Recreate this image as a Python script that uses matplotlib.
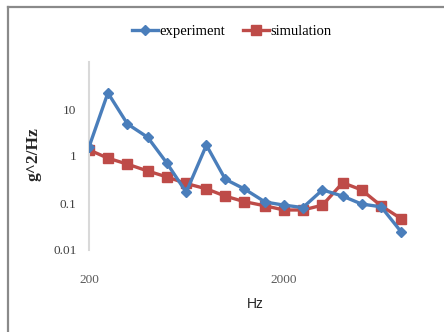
import matplotlib
matplotlib.use("Agg")
import matplotlib.pyplot as plt
from matplotlib.lines import Line2D
import numpy as np

freq = [200, 250, 315, 400, 500, 630, 800, 1000, 1250, 1600, 2000,
        2500, 3150, 4000, 5000, 6300, 8000]
experiment = [1.55, 22, 4.8, 2.5, 0.72, 0.17, 1.7, 0.32, 0.20, 0.105, 0.09,
              0.08, 0.19, 0.14, 0.095, 0.083, 0.024]
simulation = [1.35, 0.9, 0.67, 0.48, 0.36, 0.26, 0.2, 0.14, 0.107, 0.087, 0.071,
              0.071, 0.09, 0.27, 0.19, 0.087, 0.046]
xticks = [200, 2000]
xticklabels = ["200", "2000"]
yticks = [0.01, 0.1, 1, 10]
yticklabels = ["0.01", "0.1", "1", "10"]

W, H = 444, 332
fig = plt.figure(figsize=(W / 100, H / 100), dpi=100)

x0, x1 = 89, 444
y_top, y_bot = 62, 250
ax = fig.add_axes([x0 / W, 1 - y_bot / H, (x1 - x0) / W, (y_bot - y_top) / H])
ax.set_xscale("log")
ax.set_yscale("log")
dec_px = 195.0
ax.set_xlim(200, 200 * 10 ** ((x1 - x0) / dec_px))
ax.set_ylim(0.01, 100)

blue = "#4A7EBB"
red = "#BE4B48"
ax.plot(freq, experiment, color=blue, lw=2.4, marker="D", ms=5.5,
        label="experiment", zorder=3)
ax.plot(freq, simulation, color=red, lw=2.4, marker="s", ms=7,
        label="simulation", zorder=2)

for s in ["top", "right", "bottom"]:
    ax.spines[s].set_visible(False)
ax.spines["left"].set_color("#d9d9d9")
ax.spines["left"].set_linewidth(1.5)

ax.set_xticks(xticks)
ax.set_xticklabels(xticklabels, fontfamily="Liberation Serif", fontsize=9.5, color="#595959")
ax.xaxis.set_minor_locator(matplotlib.ticker.NullLocator())
ax.set_yticks(yticks)
ax.set_yticklabels(yticklabels, fontfamily="Liberation Serif", fontsize=9.5, color="#404040")
ax.yaxis.set_minor_locator(matplotlib.ticker.NullLocator())
ax.tick_params(axis="both", length=0)
ax.tick_params(axis="x", pad=17)
ax.tick_params(axis="y", pad=9)

fig.text(255 / W, 1 - 304 / H, "Hz", ha="center", va="center",
         fontfamily="Liberation Sans", fontsize=10, color="#262626")
fig.text(33 / W, 1 - 154 / H, "g^2/Hz", ha="center", va="center", rotation=90,
         fontfamily="Liberation Serif", fontsize=12.5, fontweight="bold", color="#262626")

leg = fig.legend(loc="center", bbox_to_anchor=(232 / W, 1 - 31 / H), ncol=2,
                 frameon=False, prop={"family": "Liberation Serif", "size": 10.5},
                 handlelength=1.8, handletextpad=0.1, columnspacing=1.2)

fig.add_artist(Line2D([8 / W, 8 / W], [0, 1 - 7 / H], color="#8a8a8a", lw=1.6))
fig.add_artist(Line2D([8 / W, 1], [1 - 7 / H, 1 - 7 / H], color="#8a8a8a", lw=1.6))

fig.savefig("out.png", dpi=100)
